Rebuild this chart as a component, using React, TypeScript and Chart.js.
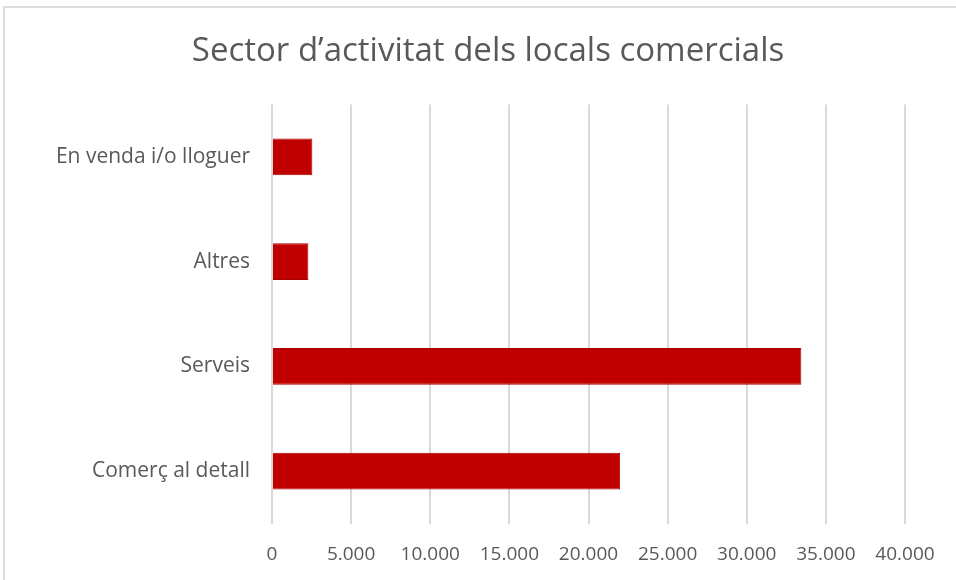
import React, { useEffect, useRef } from "react";
import { Chart, registerables } from "chart.js";

Chart.register(...registerables);

const categories = ["En venda i/o lloguer", "Altres", "Serveis", "Comerç al detall"];
const values = [2550, 2300, 33450, 22000];
const xTicks = [0, 5000, 10000, 15000, 20000, 25000, 30000, 35000, 40000];
const titleText = "Sector d\u2019activitat dels locals comercials";

const FONT = "'Open Sans', 'Noto Sans', sans-serif";
const TEXT = "#595959";

function fmt(v: number): string {
  return String(Math.round(v)).replace(/\B(?=(\d{3})+(?!\d))/g, ".");
}

const titlePlugin = {
  id: "offsetTitle",
  afterDraw(chart: any) {
    const ctx = chart.ctx;
    ctx.save();
    ctx.font = `normal 33px ${FONT}`;
    ctx.fillStyle = TEXT;
    ctx.textAlign = "center";
    ctx.textBaseline = "middle";
    ctx.fillText(titleText, 488, 52);
    ctx.restore();
  },
};

export default function App() {
  const ref = useRef<HTMLCanvasElement | null>(null);

  useEffect(() => {
    document.body.style.margin = "0";
    document.body.style.background = "#ffffff";
    const canvas = ref.current;
    if (!canvas) return;
    const chart = new Chart(canvas, {
      type: "bar",
      data: {
        labels: categories,
        datasets: [
          {
            data: values,
            backgroundColor: "#c00000",
            borderColor: "#a80000",
            borderWidth: 1,
            categoryPercentage: 1,
            barPercentage: 0.35,
          },
        ],
      },
      plugins: [titlePlugin],
      options: {
        indexAxis: "y",
        animation: false,
        responsive: false,
        devicePixelRatio: 1,
        layout: { padding: { left: 0, right: 51, top: 104.5, bottom: 0 } },
        plugins: {
          legend: { display: false },
          tooltip: { enabled: false },
          title: { display: false },
        },
        scales: {
          x: {
            min: 0,
            max: 40000,
            afterBuildTicks: (scale: any) => {
              scale.ticks = xTicks.map((v) => ({ value: v }));
            },
            afterFit: (scale: any) => {
              scale.height = 56.5;
            },
            ticks: {
              color: TEXT,
              font: { family: FONT, size: 19 },
              padding: 20,
              callback: (v: any) => fmt(Number(v)),
            },
            grid: { color: "#d9d9d9", lineWidth: 2, drawTicks: false },
            border: { display: false },
          },
          y: {
            afterFit: (scale: any) => {
              scale.width = 272;
            },
            ticks: {
              color: TEXT,
              font: { family: FONT, size: 21 },
              padding: 22,
            },
            grid: { display: false, drawTicks: false },
            border: { display: false },
          },
        },
      },
    });
    return () => chart.destroy();
  }, []);

  return (
    <div style={{ position: "relative", width: 956, height: 580, overflow: "hidden" }}>
      <canvas ref={ref} width={956} height={580} style={{ display: "block" }} />
      <div
        style={{
          position: "absolute",
          left: 3,
          top: 6,
          width: 960,
          height: 600,
          borderTop: "2px solid #dcdcdc",
          borderLeft: "2px solid #dcdcdc",
          pointerEvents: "none",
        }}
      />
    </div>
  );
}
